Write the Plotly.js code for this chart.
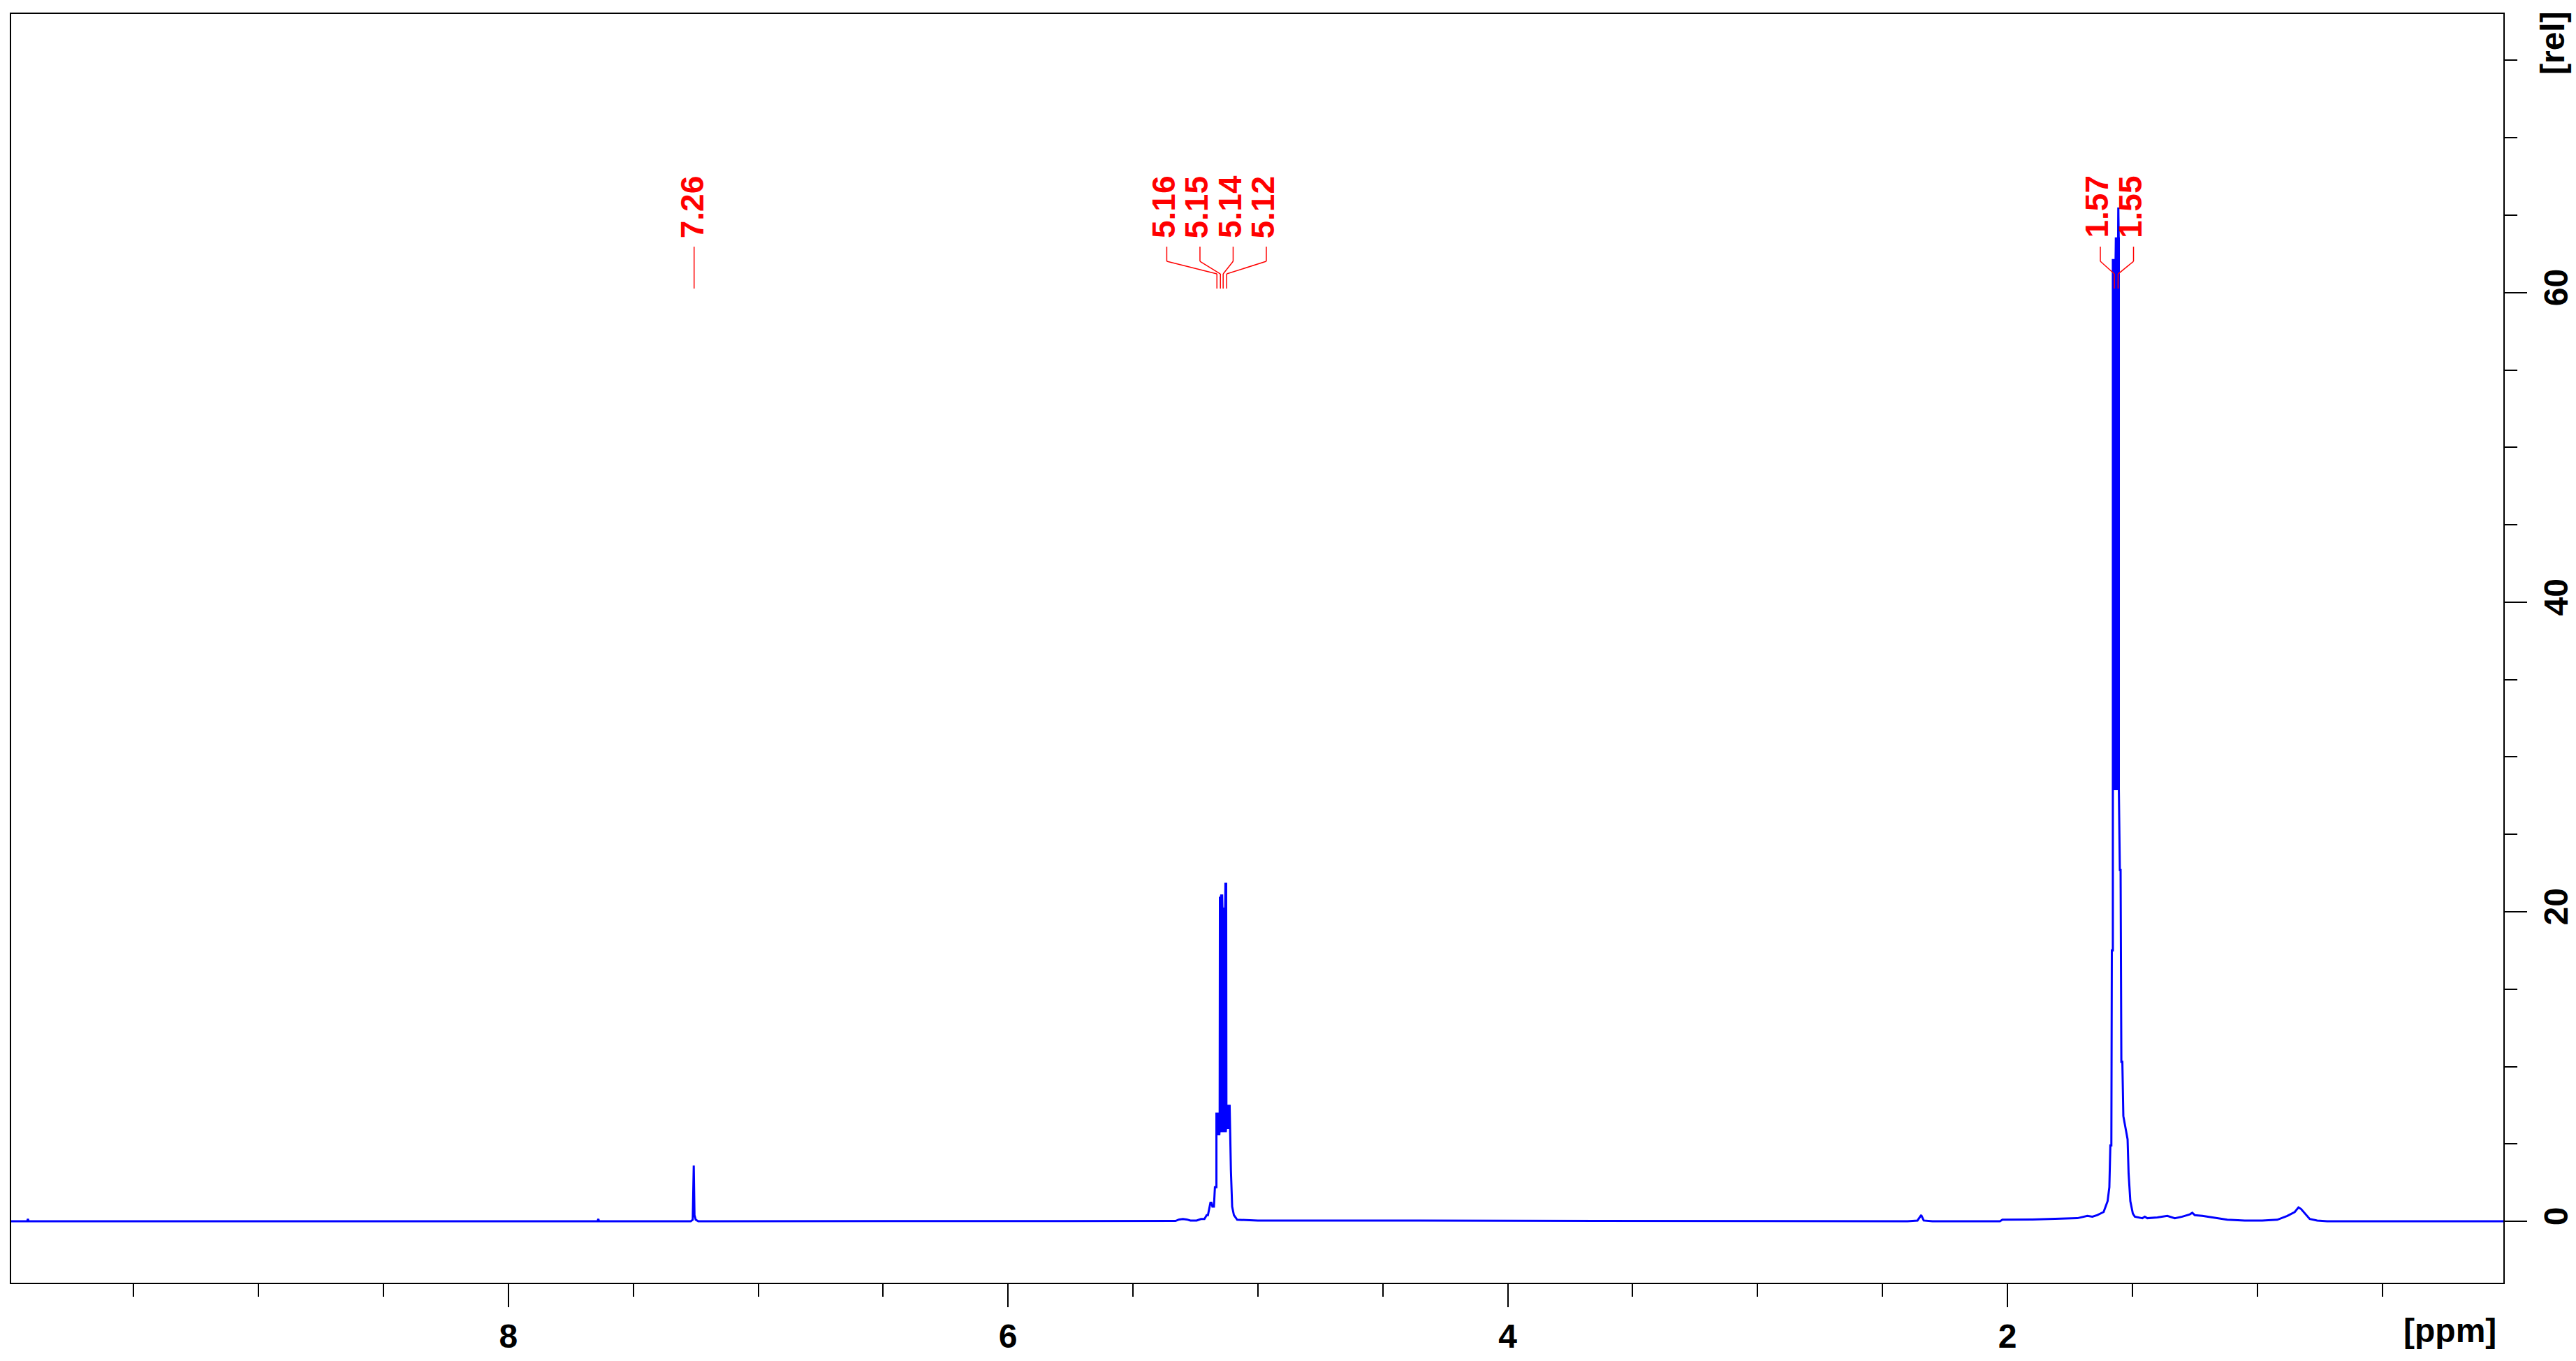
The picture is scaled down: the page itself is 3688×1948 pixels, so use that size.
<!DOCTYPE html>
<html><head><meta charset="utf-8">
<script src="https://cdn.plot.ly/plotly-3.0.1.min.js"></script>
<style>html,body{margin:0;padding:0;background:#fff;}#chart{width:3688px;height:1948px;}</style>
</head><body><div id="chart"></div>
<script>
// ---- spectrum outline (ppm, relative intensity) ----
const specPpm = [9.99,9.926,9.923,9.92,7.643,7.64,7.637,7.27,7.262,7.258,7.255,7.25,7.24,
 5.40,5.33,5.315,5.30,5.285,5.27,5.245,5.228,5.214,5.205,5.200,5.190,5.186,5.182,5.176,5.172,5.166,5.166,
 5.153,5.152,5.148,5.147,5.143,5.142,5.131,5.130,5.127,5.126,5.113,5.108,5.103,5.096,5.083,5.0,4.6,
 2.40,2.36,2.345,2.335,2.30,2.03,2.02,1.90,1.80,1.72,1.68,1.66,1.64,1.625,1.615,1.606,1.599,1.592,1.588,1.584,1.582,1.578,1.578,
 1.567,1.566,1.557,1.556,1.555,1.554,1.554,1.550,1.547,1.544,1.540,1.536,1.519,1.515,1.512,1.508,1.498,1.49,
 1.46,1.45,1.44,1.40,1.36,1.33,1.30,1.27,1.26,1.25,1.22,1.20,1.17,1.12,1.05,0.98,0.92,0.88,0.85,0.835,0.825,0.81,0.79,0.76,0.72,0.015];
const specInt = [0,0,0.15,0,0,0.15,0,0,0.1,3.6,0.4,0.1,0,
 0,0.02,0.12,0.15,0.12,0.05,0.05,0.15,0.15,0.4,0.4,1.2,1.2,0.95,0.95,2.2,2.2,6.95,
 6.95,20.9,20.9,21.05,21.05,20.2,20.2,21.8,21.8,7.46,7.46,3.3,0.95,0.4,0.1,0.05,0.05,
 0,0.05,0.4,0.05,0,0,0.1,0.12,0.15,0.2,0.35,0.3,0.4,0.5,0.6,1.0,1.3,2.2,4.9,4.9,17.5,17.5,62.1,
 62.1,63.5,63.5,65.5,63.5,63.5,27.9,22.7,22.7,10.3,10.3,6.8,5.3,3.1,2.2,1.3,0.5,0.3,
 0.2,0.3,0.2,0.25,0.35,0.2,0.3,0.45,0.55,0.4,0.35,0.3,0.2,0.1,0.05,0.05,0.1,0.35,0.6,0.9,0.8,0.5,0.15,0.05,0,0];

// dense (filled-looking) regions: ppm, lower and upper envelope
const multBandPpm  = [5.166,5.153,5.152,5.148,5.147,5.143,5.142,5.131,5.130,5.127,5.126,5.113];
const multBandLow  = [5.6,5.6,5.8,5.8,5.8,5.8,5.8,5.8,5.8,5.8,6.0,6.0];
const multBandHigh = [6.95,6.95,20.9,20.9,21.05,21.05,20.2,20.2,21.8,21.8,7.46,7.46];
const mainBandPpm  = [1.578,1.567,1.566,1.557,1.556,1.555,1.554];
const mainBandLow  = [27.9,27.9,27.9,27.9,27.9,27.9,27.9];
const mainBandHigh = [62.1,62.1,63.5,63.5,65.5,63.5,63.5];

// ---- peak picking labels ----
const peakGroups = [
  {ppm:[7.258], text:['7.26']},
  {ppm:[5.164,5.150,5.139,5.125], text:['5.16','5.15','5.14','5.12']},
  {ppm:[1.572,1.557], text:['1.57','1.55']}
];
const groupShiftPx = [-2,-12,-3.5];   // label column offset (style)

const xTickVals = [2,4,6,8];
const yTickVals = [0,20,40,60];

// ---- layout constants ----
const W=3688,H=1948, mL=16,mR=104,mT=20,mB=112;
const xRange=[9.99,0.015], yRange=[-3.97,78];
const plotW=W-mL-mR, plotH=H-mT-mB;
const pxPerPpm = plotW/(xRange[0]-xRange[1]);
const pxPerY = plotH/(yRange[1]-yRange[0]);
const ppmToPx = p => (xRange[0]-p)*pxPerPpm;

const BLUE='#0000ff', RED='#ff0000';
const FONT='Liberation Sans, Arial, sans-serif';

function band(p,lo,hi){
  return {x:p.concat(p.slice().reverse()), y:hi.concat(lo.slice().reverse())};
}
const b1=band(multBandPpm,multBandLow,multBandHigh);
const b2=band(mainBandPpm,mainBandLow,mainBandHigh);

const traces=[
 {x:b1.x,y:b1.y,type:'scatter',mode:'lines',fill:'toself',fillcolor:BLUE,line:{color:BLUE,width:2},hoverinfo:'skip',showlegend:false},
 {x:b2.x,y:b2.y,type:'scatter',mode:'lines',fill:'toself',fillcolor:BLUE,line:{color:BLUE,width:2},hoverinfo:'skip',showlegend:false},
 {x:specPpm,y:specInt,type:'scatter',mode:'lines',line:{color:BLUE,width:3},showlegend:false}
];

// label / connector geometry in data-y units (from pixel heights)
const yOf = pyFromBaseline => pyFromBaseline/pxPerY;
const labelY = yOf(1452), c1 = yOf(1395), c2 = yOf(1374), c3 = yOf(1356), c4 = yOf(1335);

const annotations=[], shapes=[];
peakGroups.forEach((g,gi)=>{
  const pxs=g.ppm.map(ppmToPx);
  const mean=pxs.reduce((a,b)=>a+b,0)/pxs.length;
  const n=g.ppm.length;
  g.ppm.forEach((p,i)=>{
    const lpx = mean + groupShiftPx[gi] + (i-(n-1)/2)*47.5;
    const off = lpx - pxs[i];
    annotations.push({x:p,y:labelY,xref:'x',yref:'y',text:g.text[i],showarrow:false,textangle:-90,
      xanchor:'center',yanchor:'middle',xshift:off,font:{family:FONT,size:46,color:RED,weight:'bold'}});
    const top = off+4.5;
    if(n===1){
      shapes.push({type:'line',xref:'x',yref:'y',xsizemode:'pixel',xanchor:p,x0:top-2,x1:top-2,y0:c1,y1:c4,line:{color:RED,width:1.5}});
    } else {
      shapes.push({type:'line',xref:'x',yref:'y',xsizemode:'pixel',xanchor:p,x0:top,x1:top,y0:c1,y1:c2,line:{color:RED,width:1.5}});
      shapes.push({type:'line',xref:'x',yref:'y',xsizemode:'pixel',xanchor:p,x0:top,x1:0,y0:c2,y1:c3,line:{color:RED,width:1.5}});
      shapes.push({type:'line',xref:'x',yref:'y',xsizemode:'pixel',xanchor:p,x0:0,x1:0,y0:c3,y1:c4,line:{color:RED,width:1.5}});
    }
  });
});

annotations.push({xref:'paper',yref:'paper',x:(3576-mL)/plotW,y:-(1905-(H-mB))/plotH,text:'[ppm]',showarrow:false,
  xanchor:'right',yanchor:'middle',font:{family:FONT,size:48,color:'#000',weight:'bold'}});
annotations.push({xref:'paper',yref:'paper',x:(3654-mL)/plotW,y:((H-mB)-62)/plotH,text:'[rel]',showarrow:false,textangle:-90,
  xanchor:'center',yanchor:'middle',font:{family:FONT,size:48,color:'#000',weight:'bold'}});

const tickFont={family:FONT,size:48,color:'#000',weight:'bold'};
const layout={
 width:W,height:H,margin:{l:mL,r:mR,t:mT,b:mB,pad:0},
 paper_bgcolor:'#fff',plot_bgcolor:'#fff',showlegend:false,
 xaxis:{range:xRange,autorange:false,tickmode:'array',tickvals:xTickVals,ticktext:xTickVals.map(String),
   ticks:'outside',ticklen:33,tickwidth:2,tickcolor:'#000',
   minor:{dtick:0.5,tick0:0,ticks:'outside',ticklen:18,tickwidth:2,tickcolor:'#000',showgrid:false},
   showline:true,mirror:true,linecolor:'#000',linewidth:2,showgrid:false,zeroline:false,tickfont:tickFont},
 yaxis:{range:yRange,autorange:false,side:'right',tickmode:'array',tickvals:yTickVals,ticktext:yTickVals.map(String),
   ticks:'outside',ticklen:32,tickwidth:2,tickcolor:'#000',tickangle:-90,
   minor:{dtick:5,tick0:0,ticks:'outside',ticklen:18,tickwidth:2,tickcolor:'#000',showgrid:false},
   showline:true,mirror:true,linecolor:'#000',linewidth:2,showgrid:false,zeroline:false,tickfont:tickFont},
 annotations:annotations,shapes:shapes
};
Plotly.newPlot('chart',traces,layout,{staticPlot:true,displayModeBar:false});
</script></body></html>
